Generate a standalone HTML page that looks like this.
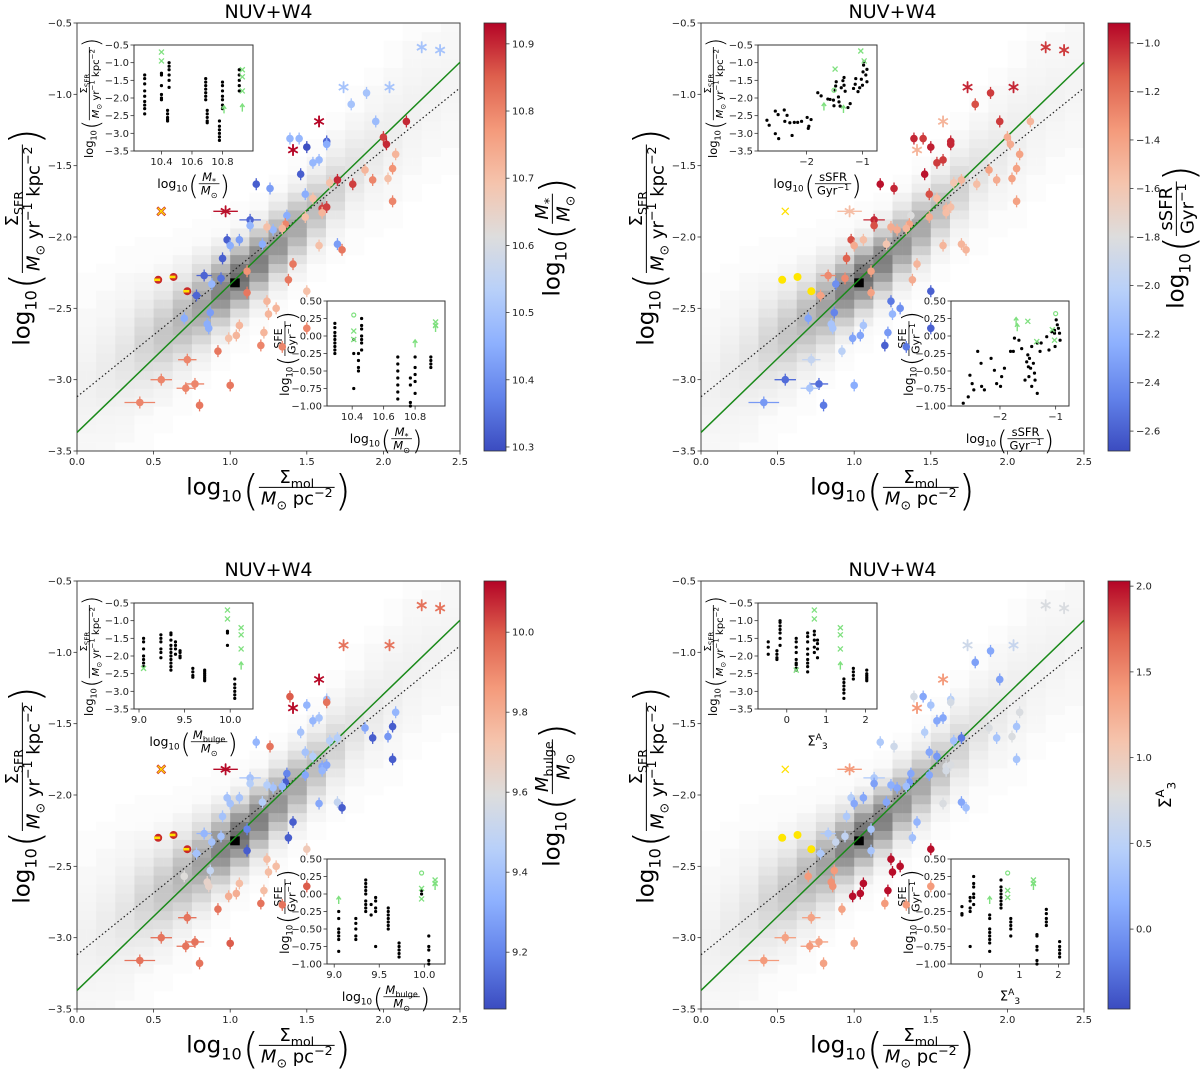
<!DOCTYPE html>
<html><head><meta charset="utf-8"><title>NUV+W4 Kennicutt-Schmidt panels</title>
<style>
html,body{margin:0;padding:0;background:#fff;}
svg{display:block;font-family:"DejaVu Sans","Liberation Sans",sans-serif;}
</style></head>
<body>
<svg id="fig" xmlns="http://www.w3.org/2000/svg" width="1200" height="1070" viewBox="0 0 1200 1070">
<defs>
<linearGradient id="cw" x1="0" y1="1" x2="0" y2="0">
<stop offset="0" stop-color="rgb(59,76,192)"/><stop offset="0.125" stop-color="rgb(98,130,234)"/>
<stop offset="0.25" stop-color="rgb(141,176,254)"/><stop offset="0.375" stop-color="rgb(184,208,249)"/>
<stop offset="0.5" stop-color="rgb(221,221,221)"/><stop offset="0.625" stop-color="rgb(245,196,173)"/>
<stop offset="0.75" stop-color="rgb(244,154,123)"/><stop offset="0.875" stop-color="rgb(222,96,77)"/>
<stop offset="1" stop-color="rgb(180,4,38)"/>
</linearGradient>
</defs>
</svg>
<script>
// ---------- main scatter data ----------
const mainX=[2.25,2.37,1.74,2.04,1.89,1.79,1.95,1.58,2.15,1.39,1.45,1.41,1.5,1.63,1.63,2.0,2.02,2.08,1.88,2.06,2.03,1.93,1.8,1.7,1.65,1.46,1.54,1.58,1.17,1.26,1.49,1.54,1.6,1.63,1.6,2.06,0.55,0.97,1.37,1.49,1.13,1.13,1.28,1.24,1.36,1.34,0.98,1.06,1.0,1.21,1.58,1.70,1.73,0.95,1.41,0.83,0.94,1.11,0.53,0.63,0.72,0.88,1.38,1.11,0.78,1.5,1.24,0.87,1.25,1.3,0.7,0.85,0.86,1.06,1.22,0.99,1.04,1.2,1.34,0.92,0.72,0.55,0.77,0.71,1.0,0.41,0.8,1.5];
const mainY=[-0.67,-0.69,-0.95,-0.95,-0.99,-1.07,-1.19,-1.19,-1.19,-1.31,-1.31,-1.39,-1.37,-1.33,-1.35,-1.30,-1.35,-1.42,-1.53,-1.52,-1.59,-1.60,-1.63,-1.60,-1.62,-1.56,-1.48,-1.46,-1.63,-1.66,-1.70,-1.73,-1.80,-1.79,-1.83,-1.75,-1.82,-1.82,-1.85,-1.86,-1.88,-1.92,-1.95,-1.93,-1.91,-1.94,-2.02,-2.02,-2.06,-2.05,-2.06,-2.05,-2.09,-2.15,-2.19,-2.27,-2.29,-2.24,-2.30,-2.28,-2.38,-2.33,-2.30,-2.39,-2.41,-2.38,-2.45,-2.53,-2.54,-2.50,-2.57,-2.61,-2.64,-2.62,-2.67,-2.71,-2.69,-2.76,-2.77,-2.80,-2.86,-3.0,-3.03,-3.06,-3.04,-3.16,-3.18,-2.64];
const markType=['s','s','s','s','c','c','c','s','c','c','c','s','c','c','c','c','c','c','c','c','c','c','c','c','c','c','c','c','c','c','c','c','c','c','c','c','yx','s','c','c','c','c','c','c','c','c','c','c','c','c','c','c','c','c','c','c','c','c','yc','yc','yc','c','c','c','c','c','c','c','c','c','c','c','c','c','c','c','c','c','c','c','c','c','c','c','c','c','c','c'];
const xErr=[0,0,0,0,0,0,0,0,0,0,0,0,0,0,0,0,0,0,0,0,0,0,0,0,0,0,0,0,0,0,0,0,0,0,0,0,0,0.08,0,0,0.07,0,0,0,0,0,0,0,0,0,0,0,0,0,0,0.05,0,0,0,0,0,0,0,0,0.03,0,0,0,0,0,0,0,0,0,0,0,0,0,0,0,0.06,0.07,0.06,0.06,0,0.1,0,0];
const stellarMass=[10.5,10.5,10.5,10.5,10.5,10.5,10.48,10.93,10.9,10.47,10.47,10.93,10.3,10.33,10.45,10.88,10.9,10.72,10.72,10.78,10.7,10.8,10.88,10.9,10.7,10.32,10.47,10.47,10.32,10.42,10.45,10.7,10.88,10.88,10.72,10.8,null,10.92,10.45,10.7,10.33,10.47,10.47,10.7,10.8,10.72,10.32,10.42,10.45,10.45,10.7,10.42,10.82,10.32,10.82,10.33,10.35,10.78,null,null,null,10.47,10.82,10.82,10.33,10.7,10.72,10.42,10.72,10.72,10.45,10.45,10.45,10.72,10.72,10.7,10.72,10.8,10.8,10.82,10.8,10.8,10.8,10.8,10.82,10.8,10.82,10.8];
const sSFR=[-1.05,-1.05,-1.0,-1.0,-1.05,-1.1,-1.05,-1.5,-1.5,-1.0,-1.05,-1.5,-0.98,-1.0,-1.0,-1.45,-1.45,-1.4,-1.4,-1.4,-1.4,-1.45,-1.55,-1.5,-1.6,-0.95,-1.05,-1.05,-0.95,-1.0,-1.1,-1.55,-1.5,-1.55,-1.55,-1.4,null,-1.55,-1.8,-1.45,-1.0,-1.1,-1.45,-1.45,-1.4,-1.5,-1.1,-1.55,-1.45,-1.6,-1.5,-1.5,-1.5,-1.15,-1.5,-1.3,-1.3,-1.4,null,null,null,-2.4,-1.45,-1.4,-1.4,-2.6,-2.5,-2.45,-2.2,-2.4,-2.3,-2.1,-2.1,-2.1,-2.35,-2.3,-2.3,-2.6,-2.5,-2.0,-1.95,-2.55,-2.55,-2.1,-2.25,-2.35,-2.5,-2.6];
const bulgeMass=[9.95,9.95,9.95,9.95,null,null,null,10.12,null,10.0,null,10.12,9.35,9.4,9.95,null,null,9.35,9.3,9.1,9.25,9.1,null,9.45,9.45,9.4,9.35,9.4,9.35,9.95,9.4,9.45,9.3,9.3,9.35,9.1,null,10.12,9.2,9.3,9.4,9.45,9.4,9.45,9.1,9.35,9.4,9.4,9.4,9.45,9.3,9.5,9.1,9.4,9.1,9.35,9.4,9.2,null,null,null,9.4,9.1,9.1,9.4,9.7,9.75,9.5,9.75,9.75,9.6,9.65,9.65,9.75,9.75,9.8,9.8,9.95,9.95,9.95,9.95,9.95,9.95,9.95,10.0,9.95,9.95,10.0];
const sigma3=[0.75,0.75,0.65,0.6,0.1,0.05,0.05,1.4,null,0.7,0.1,1.4,0.35,0.45,0.7,null,null,0.75,0.75,0.35,0.75,0.35,null,-0.2,0.3,0.45,0.1,0.1,0.4,0.65,0.1,0.0,0.75,0.75,0.7,0.35,null,1.4,0.1,0.1,0.4,0.05,0.1,0.15,0.0,0.3,0.45,0.1,0.1,0.1,0.75,0.1,0.3,0.4,0.2,0.4,0.55,0.35,null,null,null,0.6,0.3,0.35,0.4,2.0,2.0,1.4,2.0,2.0,1.4,1.45,1.45,2.0,2.0,2.0,2.0,1.4,1.4,1.35,1.35,1.35,1.35,1.4,1.35,1.4,1.35,1.4];

// ---------- 2D histogram ridge (per 0.125 column) ----------
const ridgeX=[0.0625,0.1875,0.3125,0.4375,0.5625,0.6875,0.8125,0.9375,1.0625,1.1875,1.3125,1.4375,1.5625,1.6875,1.8125,1.9375,2.0625,2.1875,2.3125,2.4375];
const ridgeCenter=[-3.05,-2.95,-2.85,-2.75,-2.68,-2.58,-2.48,-2.38,-2.28,-2.17,-2.05,-1.93,-1.8,-1.66,-1.52,-1.4,-1.26,-1.12,-1.0,-0.9];
const ridgeSpread=[0.22,0.22,0.22,0.2,0.19,0.18,0.17,0.15,0.14,0.14,0.14,0.14,0.14,0.15,0.16,0.17,0.18,0.18,0.18,0.18];
const ridgePeak=[0.03,0.05,0.08,0.14,0.2,0.26,0.34,0.46,0.55,0.48,0.4,0.32,0.24,0.15,0.09,0.06,0.04,0.03,0.025,0.02];

// ---------- fitted lines ----------
const greenLine=[[0,-3.37],[2.5,-0.775]];
const dottedLine=[[0,-3.12],[2.5,-0.955]];

// ---------- inset data: stellar mass ----------
const p1TopGroups=[[10.29,[-1.35,-1.45,-1.6,-1.8,-1.95,-2.1,-2.2,-2.3,-2.45]],[10.40,[-1.3,-1.35,-1.65,-1.9,-2.0,-2.05]],[10.44,[-2.35,-2.45,-2.55,-2.6,-2.65]],[10.45,[-1.0,-1.1,-1.2,-1.35,-1.5,-1.7]],[10.69,[-1.45,-1.55,-1.65,-1.75,-1.85,-1.95,-2.05]],[10.70,[-2.35,-2.45,-2.55,-2.65,-2.7]],[10.78,[-2.65,-2.8,-2.9,-3.0,-3.1,-3.2]],[10.80,[-1.55,-1.65,-1.8,-1.95,-2.05,-2.2,-2.3]],[10.91,[-1.2,-1.35,-1.5,-1.65,-1.8]]];
const p1TopGreenX=[[10.40,-0.7],[10.40,-0.95],[10.93,-1.2],[10.93,-1.4],[10.93,-1.8]];
const p1TopGreenArrow=[[10.93,-2.3],[10.81,-2.35]];
const p1BotGroups=[[10.29,[0.18,0.12,0.05,0.0,-0.05,-0.1,-0.15,-0.2,-0.25]],[10.41,[-0.05,-0.25,-0.75]],[10.44,[-0.25,-0.35,-0.45,-0.5]],[10.46,[0.25,0.15,0.1,0.0,-0.05,-0.1,-0.2]],[10.69,[-0.3,-0.4,-0.5,-0.6,-0.7,-0.8,-0.9]],[10.77,[-0.6,-0.7,-0.95,-1.0]],[10.80,[-0.3,-0.45,-0.55,-0.65,-0.82]],[10.90,[-0.3,-0.35,-0.4,-0.45]]];
const p1BotGreenX=[[10.41,0.07],[10.41,-0.05],[10.93,0.2],[10.93,0.15]];
const p1BotGreenArrow=[[10.80,-0.12],[10.93,0.1]];
const p1BotGreenO=[[10.41,0.3]];

// ---------- inset data: sSFR ----------
const p2TopX=[-2.71,-2.67,-2.56,-2.50,-2.56,-2.51,-2.39,-2.40,-2.35,-2.30,-2.26,-2.22,-2.16,-2.09,-1.99,-1.96,-1.97,-1.92,-1.80,-1.74,-1.62,-1.58,-1.52,-1.49,-1.48,-1.47,-1.43,-1.42,-1.40,-1.51,-1.38,-1.35,-1.33,-1.33,-1.31,-1.26,-1.22,-1.16,-1.13,-1.12,-1.08,-1.05,-1.02,-0.99,-0.98,-0.97,-0.94,-0.92,-0.92,-1.0];
const p2TopY=[-2.63,-2.77,-3.01,-3.15,-2.37,-2.47,-2.66,-2.34,-2.49,-2.70,-3.06,-2.69,-2.69,-2.66,-2.55,-2.80,-2.86,-2.61,-1.85,-1.94,-2.03,-2.04,-2.06,-1.78,-1.66,-1.54,-1.97,-2.11,-2.23,-2.22,-1.71,-1.51,-1.42,-1.64,-1.81,-2.27,-2.16,-1.73,-1.61,-1.45,-1.82,-1.71,-1.47,-1.26,-1.07,-0.97,-1.35,-1.54,-1.19,-1.64];
const p2TopGreenX=[[-1.03,-0.67],[-0.97,-0.95],[-1.49,-1.18]];
const p2TopGreenO=[[-1.51,-1.78]];
const p2TopGreenArrow=[[-1.69,-2.27],[-1.34,-2.34]];
const p2BotX=[-2.66,-2.57,-2.54,-2.50,-2.47,-2.40,-2.34,-2.33,-2.28,-2.16,-2.10,-2.06,-1.99,-1.97,-1.92,-1.81,-1.76,-1.74,-1.66,-1.61,-1.55,-1.52,-1.50,-1.49,-1.48,-1.47,-1.45,-1.43,-1.43,-1.40,-1.38,-1.37,-1.33,-1.33,-1.28,-1.26,-1.16,-1.12,-1.07,-1.02,-1.01,-0.99,-0.97,-0.95,-0.93,-0.92,-1.02];
const p2BotY=[-0.96,-0.87,-0.56,-0.68,-0.77,-0.22,-0.39,-0.72,-0.77,-0.32,-0.49,-0.68,-0.72,-0.58,-0.46,-0.22,-0.22,-0.03,-0.06,-0.18,-0.63,-0.37,-0.27,-0.44,-0.58,-0.32,-0.46,-0.72,-0.15,-0.39,-0.53,-0.63,-0.82,-0.10,-0.22,-0.10,-0.01,-0.20,0.06,0.04,-0.15,0.23,0.16,0.11,0.04,-0.06,0.08];
const p2BotGreenX=[[-1.50,0.21],[-1.34,-0.08],[-1.06,0.09],[-1.02,-0.06]];
const p2BotGreenO=[[-1.0,0.32]];
const p2BotGreenArrow=[[-1.71,0.20],[-1.69,0.11]];

// ---------- inset data: bulge mass ----------
const p3TopGroups=[[9.05,[-1.5,-1.6,-1.8,-2.0,-2.1,-2.2,-2.3]],[9.24,[-1.4,-1.5,-1.6,-1.8,-1.9,-2.05]],[9.35,[-1.35,-1.4,-1.55,-1.7,-1.8,-1.9,-2.0,-2.1,-2.2,-2.3,-2.4]],[9.40,[-1.6,-1.7,-1.8,-1.95]],[9.45,[-1.85,-1.9,-2.0,-2.05]],[9.59,[-2.35,-2.45,-2.55,-2.6]],[9.72,[-2.4,-2.45,-2.5,-2.55,-2.6,-2.65,-2.7]],[9.97,[-1.3,-1.35,-1.7]],[10.05,[-2.65,-2.8,-2.9,-3.0,-3.1,-3.2]]];
const p3TopGreenX=[[9.05,-2.35],[9.97,-0.7],[9.97,-0.95],[10.12,-1.2],[10.12,-1.4],[10.12,-1.8]];
const p3TopGreenArrow=[[10.12,-2.3]];
const p3BotGroups=[[9.05,[-0.25,-0.35,-0.5,-0.55,-0.6,-0.65,-0.82]],[9.24,[-0.35,-0.42,-0.5,-0.6,-0.65]],[9.35,[0.2,0.15,0.1,0.05,0.0,-0.1,-0.15,-0.2,-0.25]],[9.41,[-0.15,-0.3]],[9.46,[-0.05,-0.1,-0.2,-0.25,-0.75]],[9.6,[-0.2,-0.25,-0.3,-0.35,-0.4,-0.45,-0.5]],[9.72,[-0.7,-0.75,-0.8,-0.85,-0.9]],[9.97,[0.05,0.0]],[10.05,[-0.6,-0.75,-0.8,-0.95,-1.0]]];
const p3BotGreenX=[[9.97,0.08],[9.97,-0.07],[10.12,0.2],[10.12,0.15]];
const p3BotGreenO=[[9.97,0.3]];
const p3BotGreenArrow=[[9.05,-0.1],[10.12,0.1]];

// ---------- inset data: Sigma_3^A ----------
const p4TopGroups=[[-0.47,[-1.6,-1.75,-1.95]],[-0.25,[-1.85,-1.95,-2.05,-2.1]],[-0.17,[-1.0,-1.05,-1.15,-1.25,-1.35,-1.5,-1.7]],[0.24,[-1.5,-1.6,-1.75,-1.9,-2.1,-2.2,-2.25,-2.35,-2.4]],[0.53,[-1.35,-1.45,-1.6,-1.8,-1.95,-2.1,-2.2,-2.3,-2.45]],[0.70,[-1.3,-1.4,-1.55,-1.75,-1.9]],[0.78,[-1.55,-1.65,-1.8,-2.05]],[1.45,[-2.65,-2.75,-2.85,-2.95,-3.05,-3.2]],[1.69,[-2.35,-2.45,-2.55,-2.65]],[2.03,[-2.4,-2.5,-2.55,-2.6,-2.65,-2.7]]];
const p4TopGreenX=[[0.24,-2.4],[0.70,-0.7],[0.70,-0.95],[1.36,-1.2],[1.36,-1.4],[1.36,-1.8]];
const p4TopGreenArrow=[[1.36,-2.3]];
const p4BotGroups=[[-0.47,[-0.18,-0.28,-0.3]],[-0.26,[-0.05,-0.1,-0.2,-0.25,-0.75]],[-0.17,[0.25,0.15,0.1,0.0,-0.05,-0.15]],[0.24,[-0.3,-0.35,-0.5,-0.55,-0.6,-0.65,-0.7,-0.82]],[0.53,[0.2,0.1,0.05,0.0,-0.05,-0.1,-0.15,-0.2]],[0.78,[-0.35,-0.4,-0.45,-0.5,-0.6]],[1.45,[-0.58,-0.6,-0.75,-0.8,-0.95,-1.0]],[1.69,[-0.22,-0.28,-0.35,-0.4,-0.45]],[2.03,[-0.68,-0.75,-0.8,-0.85,-0.9]]];
const p4BotGreenX=[[0.70,0.05],[0.70,-0.05],[1.36,0.2],[1.36,0.15]];
const p4BotGreenO=[[0.70,0.3]];
const p4BotGreenArrow=[[0.24,-0.1],[1.36,0.1]];

// ---------- tick labels ----------
const mainXTicks=[0,0.5,1.0,1.5,2.0,2.5];
const mainYTicks=[-0.5,-1.0,-1.5,-2.0,-2.5,-3.0,-3.5];
const insetTopYTicks=[-0.5,-1.0,-1.5,-2.0,-2.5,-3.0,-3.5];
const insetBotYTicks=[0.5,0.25,0,-0.25,-0.5,-0.75,-1.0];
const massTicks=[10.4,10.6,10.8];
const ssfrTicks=[-2,-1];
const bulgeTicks=[9.0,9.5,10.0];
const sigmaTicks=[0,1,2];
const cbMassTicks=[10.3,10.4,10.5,10.6,10.7,10.8,10.9];
const cbSsfrTicks=[-2.6,-2.4,-2.2,-2.0,-1.8,-1.6,-1.4,-1.2,-1.0];
const cbBulgeTicks=[9.2,9.4,9.6,9.8,10.0];
const cbSigmaTicks=[0.0,0.5,1.0,1.5,2.0];

// ---------- helpers ----------
const NS='http://www.w3.org/2000/svg';
const svg=document.getElementById('fig');
function el(tag,attrs,parent){const e=document.createElementNS(NS,tag);for(const k in attrs)e.setAttribute(k,attrs[k]);(parent||svg).appendChild(e);return e;}
const CW=[[59,76,192],[98,130,234],[141,176,254],[184,208,249],[221,221,221],[245,196,173],[244,154,123],[222,96,77],[180,4,38]];
function coolwarm(t){t=Math.max(0,Math.min(1,t));const f=t*8;const i=Math.min(7,Math.floor(f));const r=f-i;const a=CW[i],b=CW[i+1];return 'rgb('+[0,1,2].map(k=>Math.round(a[k]+(b[k]-a[k])*r)).join(',')+')';}
function fmt(v,d){const s=Math.abs(v).toFixed(d);return (v<0?'\u2212':'')+s;}

function addSegs(textEl,segs,size){
  let cur=0;
  segs.forEach(s=>{const t=document.createElementNS(NS,'tspan');t.textContent=s[0];
    let target=0;let fs=size;
    if(s[1].includes('i'))t.setAttribute('font-style','italic');
    if(s[1].includes('b')){target=0.28*size;fs=size*0.7;}
    if(s[1].includes('p')){target=-0.42*size;fs=size*0.7;}
    t.setAttribute('font-size',fs);
    t.setAttribute('dy',target-cur);cur=target;
    textEl.appendChild(t);});
}
function mathLabel(parent,cx,cy,rot,size,fsize,num,den,name){
  const g=el('g',{transform:`translate(${cx},${cy}) rotate(${rot})`},parent);
  
  
  const inner=el('g',{},g);
  let x=0;
  const t1=el('text',{x:0,y:0,'font-size':size,fill:'#000'},inner);t1.textContent='log';x+=t1.getComputedTextLength();
  const t2=el('text',{x:x,y:0.3*size,'font-size':size*0.7,fill:'#000'},inner);t2.textContent='10';x+=t2.getComputedTextLength()+1;
  const lineY=-0.32*size;
  const F=fsize*2.3;const pb=lineY+0.25*fsize+0.32*F;
  const p1=el('text',{x:x,y:pb,'font-size':F,fill:'#000','font-weight':'200'},inner);p1.textContent='(';x+=p1.getComputedTextLength();
  const tn=el('text',{x:0,y:lineY-0.25*fsize,'text-anchor':'middle',fill:'#000'},inner);addSegs(tn,num,fsize);
  const td=el('text',{x:0,y:lineY+0.95*fsize,'text-anchor':'middle',fill:'#000'},inner);addSegs(td,den,fsize);
  const W=Math.max(tn.getComputedTextLength(),td.getComputedTextLength())+4;
  tn.setAttribute('x',x+W/2);td.setAttribute('x',x+W/2);
  el('line',{x1:x,x2:x+W,y1:lineY,y2:lineY,stroke:'#000','stroke-width':Math.max(0.8,fsize/18)},inner);
  x+=W;
  const p2=el('text',{x:x,y:pb,'font-size':F,fill:'#000','font-weight':'200'},inner);p2.textContent=')';
  const bb=inner.getBBox();
  inner.setAttribute('transform',`translate(${-bb.x-bb.width/2},${-bb.y-bb.height/2})`);
  return g;
}
function simpleLabel(parent,cx,cy,rot,size,segs,name){
  const g=el('g',{transform:`translate(${cx},${cy}) rotate(${rot})`},parent);
  
  
  const t=el('text',{x:0,y:size*0.35,'text-anchor':'middle',fill:'#000'},g);addSegs(t,segs,size);
  return g;
}
const MSUN=[['M','i'],['\u2299','b']];
const SFR_NUM=[['\u03A3',''],['SFR','b']];
const SFR_DEN=[['M','i'],['\u2299','b'],[' yr',''],['\u22121','p'],[' kpc',''],['\u22122','p']];
const MOL_NUM=[['\u03A3',''],['mol','b']];
const MOL_DEN=[['M','i'],['\u2299','b'],[' pc',''],['\u22122','p']];
const MSTAR_NUM=[['M','i'],['*','b']];
const SSFR_NUM=[['sSFR','']];
const GYR_DEN=[['Gyr',''],['\u22121','p']];
const BULGE_NUM=[['M','i'],['bulge','b']];
const SFE_NUM=[['SFE','']];
const SIG_SEGS=[['\u03A3',''],['A','p'],['3','b']];

// ---------- inset drawing ----------
function drawInset(parent,box,xr,yr,xticks,xdec,yticks,ydec,points,greenX,greenO,greenArrow,name){
  const g=el('g',{},parent);
  
  
  const sx=v=>box.x+(v-xr[0])/(xr[1]-xr[0])*box.w;
  const sy=v=>box.y+(yr[1]-v)/(yr[1]-yr[0])*box.h;
  el('rect',{x:box.x,y:box.y,width:box.w,height:box.h,fill:'#fff',stroke:'#333','stroke-width':1},g);
  xticks.forEach(v=>{const X=sx(v);el('line',{x1:X,x2:X,y1:box.y+box.h,y2:box.y+box.h+3.5,stroke:'#333','stroke-width':0.8},g);
    const t=el('text',{x:X,y:box.y+box.h+14,'font-size':10,'text-anchor':'middle',fill:'#222'},g);t.textContent=fmt(v,xdec);});
  yticks.forEach(v=>{const Y=sy(v);el('line',{x1:box.x,x2:box.x-3.5,y1:Y,y2:Y,stroke:'#333','stroke-width':0.8},g);
    const t=el('text',{x:box.x-5,y:Y+3.5,'font-size':10,'text-anchor':'end',fill:'#222'},g);t.textContent=fmt(v,ydec);});
  points.forEach(p=>{const c=el('circle',{cx:sx(p[0]),cy:sy(p[1]),r:1.6,fill:'#000'},g);
    
    });
  greenX.forEach(p=>{const X=sx(p[0]),Y=sy(p[1]);
    const m=el('path',{d:`M${X-2.5},${Y-2.5}L${X+2.5},${Y+2.5}M${X-2.5},${Y+2.5}L${X+2.5},${Y-2.5}`,stroke:'#7fe07f','stroke-width':1.3},g);
    
    });
  greenO.forEach(p=>{const c=el('circle',{cx:sx(p[0]),cy:sy(p[1]),r:2,fill:'none',stroke:'#7fe07f','stroke-width':1.2},g);
    
    });
  greenArrow.forEach(p=>{const X=sx(p[0]),Y=sy(p[1]);
    const m=el('path',{d:`M${X},${Y+3}L${X},${Y-4}M${X-2.2},${Y-1.5}L${X},${Y-4.5}L${X+2.2},${Y-1.5}`,stroke:'#7fe07f','stroke-width':1.4,fill:'none'},g);
    
    });
  return {g,sx,sy};
}
function groupsToPoints(groups){const out=[];groups.forEach(gr=>gr[1].forEach(y=>out.push([gr[0],y])));return out;}

// ---------- panel drawing ----------
function drawPanel(P){
  const W=383,H=428,ox=P.ox,oy=P.oy;
  const g=el('g',{});
  
  
  const sx=v=>ox+v/2.5*W;
  const sy=v=>oy+(-0.5-v)/3*H;
  const tt=el('text',{x:ox+W/2,y:oy-5,'font-size':19,'text-anchor':'middle',fill:'#000'},g);tt.textContent='NUV+W4';
  
  
  // histogram
  const hg=el('g',{},g);
  
  
  const dx=0.0625,dy=0.0625;
  for(let ci=0;ci<ridgeX.length;ci++){
    for(let sub=0;sub<2;sub++){
      const x0=ridgeX[ci]-0.0625+sub*dx;
      for(let yb=-3.5;yb<-0.5;yb+=dy){
        const yc=yb+dy/2;const d=(yc-ridgeCenter[ci])/ridgeSpread[ci];
        let v=ridgePeak[ci]*Math.exp(-0.5*d*d);
        if(Math.abs(d)<2.6)v+=0.025;else if(Math.abs(d)<3.6)v+=0.01;
        if(v<0.008)continue;v=Math.min(v,0.72);
        const gv=Math.round(255*(1-v));
        el('rect',{x:sx(x0),y:sy(yb+dy),width:W*dx/2.5+0.3,height:H*dy/3+0.3,fill:`rgb(${gv},${gv},${gv})`},hg);
      }
    }
  }
  el('rect',{x:sx(1.0),y:sy(-2.29),width:W*0.0625/2.5,height:H*0.0625/3,fill:'#000'},hg);
  el('rect',{x:ox,y:oy,width:W,height:H,fill:'none',stroke:'#444','stroke-width':1},g);
  mainXTicks.forEach(v=>{const X=sx(v);el('line',{x1:X,x2:X,y1:oy+H,y2:oy+H+3.5,stroke:'#333','stroke-width':0.8},g);
    const t=el('text',{x:X,y:oy+H+14,'font-size':10,'text-anchor':'middle',fill:'#222'},g);t.textContent=v.toFixed(1);});
  mainYTicks.forEach(v=>{const Y=sy(v);el('line',{x1:ox,x2:ox-3.5,y1:Y,y2:Y,stroke:'#333','stroke-width':0.8},g);
    const t=el('text',{x:ox-5,y:Y+3.5,'font-size':10,'text-anchor':'end',fill:'#222'},g);t.textContent=fmt(v,1);});
  const dl=el('line',{x1:sx(dottedLine[0][0]),y1:sy(dottedLine[0][1]),x2:sx(dottedLine[1][0]),y2:sy(dottedLine[1][1]),stroke:'#222','stroke-width':1.2,'stroke-dasharray':'1.5,2.5'},g);
  
  
  const gl=el('line',{x1:sx(greenLine[0][0]),y1:sy(greenLine[0][1]),x2:sx(greenLine[1][0]),y2:sy(greenLine[1][1]),stroke:'#1a8a1a','stroke-width':1.5},g);
  
  
  const ti={x:ox+57,y:oy+22,w:119,h:106};
  const bi={x:ox+250,y:oy+278,w:118,h:105};
  drawInset(g,ti,P.topXr,[-3.5,-0.5],P.xticks,P.xdec,insetTopYTicks,1,P.topPts,P.topGX,P.topGO,P.topGA,'inset-sfr');
  drawInset(g,bi,P.botXr,[-1.0,0.5],P.xticks,P.xdec,insetBotYTicks,2,P.botPts,P.botGX,P.botGO,P.botGA,'inset-sfe');
  mathLabel(g,ti.x-42,ti.y+ti.h/2,-90,11.5,10,SFR_NUM,SFR_DEN,'inset-sfr-y-label');
  mathLabel(g,bi.x-40,bi.y+bi.h/2,-90,12,11,SFE_NUM,GYR_DEN,'inset-sfe-y-label');
  if(P.xlabSimple){simpleLabel(g,ti.x+ti.w/2,ti.y+ti.h+32,0,13,SIG_SEGS,'inset-sfr-x-label');simpleLabel(g,bi.x+bi.w/2,bi.y+bi.h+32,0,13,SIG_SEGS,'inset-sfe-x-label');}
  else{mathLabel(g,ti.x+ti.w/2,ti.y+ti.h+35,0,12.5,11.5,P.labNum,P.labDen,'inset-sfr-x-label');mathLabel(g,bi.x+bi.w/2,bi.y+bi.h+35,0,12.5,11.5,P.labNum,P.labDen,'inset-sfe-x-label');}
  const sg=el('g',{},g);
  
  
  for(let i=0;i<mainX.length;i++){
    const X=sx(mainX[i]),Y=sy(mainY[i]);const mt=markType[i];
    if(mt==='yx'||mt==='yc'){
      const mg=el('g',{},sg);
      
      
      if(mt==='yx'){
        if(P.redYellow)el('path',{d:`M${X-4},${Y-4}L${X+4},${Y+4}M${X-4},${Y+4}L${X+4},${Y-4}`,stroke:'#d03028','stroke-width':2.6},mg);
        el('path',{d:`M${X-3.5},${Y-3.5}L${X+3.5},${Y+3.5}M${X-3.5},${Y+3.5}L${X+3.5},${Y-3.5}`,stroke:'#ffe000','stroke-width':1.3},mg);
      }else{
        el('circle',{cx:X,cy:Y,r:4,fill:P.redYellow?'#c82828':'#ffe600'},mg);
        if(P.redYellow)el('rect',{x:X-4,y:Y-1.3,width:6,height:2.6,fill:'#ffe000'},mg);
      }
      continue;
    }
    const v=P.vals[i];if(v===null||v===undefined)continue;
    const col=coolwarm((v-P.vmin)/(P.vmax-P.vmin));
    const mg=el('g',{},sg);
    
    
    el('line',{x1:X,x2:X,y1:Y-6,y2:Y+6,stroke:col,'stroke-width':1.3},mg);
    if(xErr[i]>0){const e=xErr[i]/2.5*W;el('line',{x1:X-e,x2:X+e,y1:Y,y2:Y,stroke:col,'stroke-width':1.3},mg);}
    if(mt==='s'){
      el('path',{d:`M${X},${Y-5.5}L${X},${Y+5.5}M${X-4.8},${Y-2.8}L${X+4.8},${Y+2.8}M${X-4.8},${Y+2.8}L${X+4.8},${Y-2.8}`,stroke:col,'stroke-width':1.8},mg);
    }else{
      el('circle',{cx:X,cy:Y,r:3.8,fill:col},mg);
    }
  }
  mathLabel(g,ox-51,oy+H/2,-90,23,18,SFR_NUM,SFR_DEN,'y-axis-title');
  mathLabel(g,ox+W/2,oy+H+40,0,23,18,MOL_NUM,MOL_DEN,'x-axis-title');
  const cb=el('g',{},g);
  
  
  el('rect',{x:P.cbx,y:oy,width:22,height:H,fill:'url(#cw)',stroke:'#333','stroke-width':0.8},cb);
  P.cbTicks.forEach(v=>{const Y=oy+(P.vmax-v)/(P.vmax-P.vmin)*H;
    el('line',{x1:P.cbx+22,x2:P.cbx+25.5,y1:Y,y2:Y,stroke:'#333','stroke-width':0.8},cb);
    const t=el('text',{x:P.cbx+28,y:Y+3.5,'font-size':10,fill:'#222'},cb);t.textContent=fmt(v,1);});
  if(P.cbSimple)simpleLabel(g,P.cbx+57,oy+H/2,-90,17,SIG_SEGS,'colorbar-label');
  else mathLabel(g,P.cbLabX,oy+H/2,-90,23,18,P.labNum,P.labDen,'colorbar-label');
}

drawPanel({name:'panel-stellar-mass',ox:77,oy:23,cbx:484,vals:stellarMass,vmin:10.294,vmax:10.931,cbTicks:cbMassTicks,
  topXr:[10.22,11.0],botXr:[10.24,10.99],xticks:massTicks,xdec:1,
  topPts:groupsToPoints(p1TopGroups),topGX:p1TopGreenX,topGO:[],topGA:p1TopGreenArrow,
  botPts:groupsToPoints(p1BotGroups),botGX:p1BotGreenX,botGO:p1BotGreenO,botGA:p1BotGreenArrow,
  labNum:MSTAR_NUM,labDen:MSUN,cbLabX:556,redYellow:true});
drawPanel({name:'panel-ssfr',ox:701,oy:23,cbx:1108,vals:sSFR,vmin:-2.682,vmax:-0.918,cbTicks:cbSsfrTicks,
  topXr:[-2.87,-0.74],botXr:[-2.88,-0.76],xticks:ssfrTicks,xdec:0,
  topPts:p2TopX.map((x,i)=>[x,p2TopY[i]]),topGX:p2TopGreenX,topGO:p2TopGreenO,topGA:p2TopGreenArrow,
  botPts:p2BotX.map((x,i)=>[x,p2BotY[i]]),botGX:p2BotGreenX,botGO:p2BotGreenO,botGA:p2BotGreenArrow,
  labNum:SSFR_NUM,labDen:GYR_DEN,cbLabX:1180,redYellow:false});
drawPanel({name:'panel-bulge-mass',ox:77,oy:581,cbx:484,vals:bulgeMass,vmin:9.058,vmax:10.128,cbTicks:cbBulgeTicks,
  topXr:[8.945,10.25],botXr:[8.92,10.23],xticks:bulgeTicks,xdec:1,
  topPts:groupsToPoints(p3TopGroups),topGX:p3TopGreenX,topGO:[],topGA:p3TopGreenArrow,
  botPts:groupsToPoints(p3BotGroups),botGX:p3BotGreenX,botGO:p3BotGreenO,botGA:p3BotGreenArrow,
  labNum:BULGE_NUM,labDen:MSUN,cbLabX:556,redYellow:true});
drawPanel({name:'panel-sigma3',ox:701,oy:581,cbx:1108,vals:sigma3,vmin:-0.466,vmax:2.03,cbTicks:cbSigmaTicks,
  topXr:[-0.73,2.29],botXr:[-0.75,2.27],xticks:sigmaTicks,xdec:0,
  topPts:groupsToPoints(p4TopGroups),topGX:p4TopGreenX,topGO:[],topGA:p4TopGreenArrow,
  botPts:groupsToPoints(p4BotGroups),botGX:p4BotGreenX,botGO:p4BotGreenO,botGA:p4BotGreenArrow,
  xlabSimple:true,cbSimple:true,redYellow:false});
</script>
</body></html>
